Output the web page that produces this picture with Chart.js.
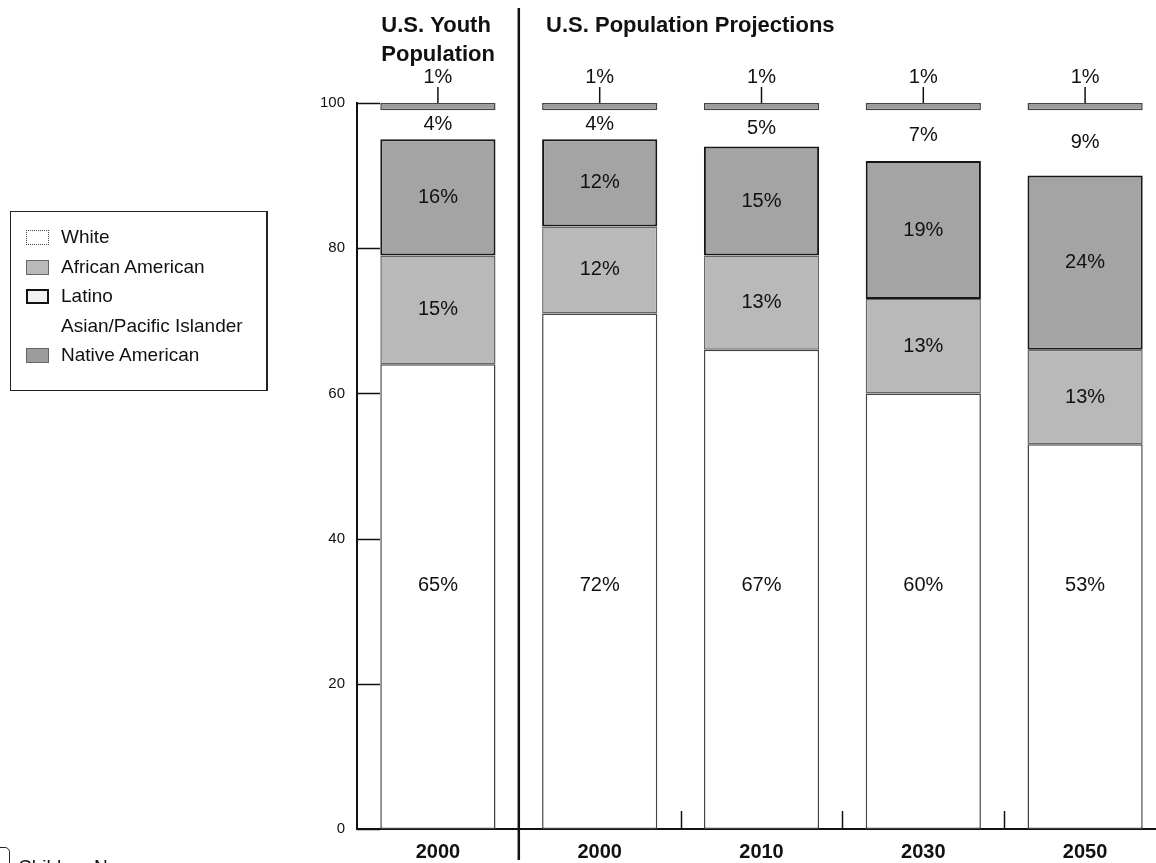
<!DOCTYPE html>
<html>
<head>
<meta charset="utf-8">
<script src="https://cdn.jsdelivr.net/npm/chart.js@4.4.1/dist/chart.umd.min.js"></script>
<style>
body{margin:0;width:1156px;height:863px;overflow:hidden;background:#fff;font-family:"Liberation Sans",Arial,sans-serif;position:relative;}
#wrap{position:absolute;left:0;top:0;width:1172px;height:863px;}
#legend{position:absolute;left:10px;top:211px;width:255px;height:178px;border:1.5px solid #222;border-right-width:2px;}
.row{position:absolute;left:0;height:30px;font-size:19px;color:#111;}
.sw{position:absolute;left:15px;top:6px;width:23px;height:15px;box-sizing:border-box;}
.lbl{position:absolute;left:50px;top:2px;white-space:nowrap;}
#logo{position:absolute;left:-6px;top:847px;width:14px;height:30px;border:1.5px solid #222;border-radius:0 5px 0 0;}
#credit{position:absolute;left:18px;top:856px;font-size:19px;color:#111;}
</style>
</head>
<body>
<div id="wrap"><canvas id="GraphStat" width="1172" height="863"></canvas></div>
<div id="legend"></div>
<div id="logo"></div>
<div id="credit">Children Now</div>
<script>
var years = ['2000', '2000', '2010', '2030', '2050'];
var groups = ['White', 'African American', 'Latino', 'Asian/Pacific Islander', 'Native American'];
// segment heights as drawn (each bar adds to 100)
var white = [64, 71, 66, 60, 53];
var africanAmerican = [15, 12, 13, 13, 13];
var latino = [16, 12, 15, 19, 24];
var asian = [4, 4, 5, 7, 9];
var nativeAmerican = [1, 1, 1, 1, 1];
// printed white shares (rounded differently in the source)
var whiteLabels = ['65%', '72%', '67%', '60%', '53%'];
var yTicks = [0, 20, 40, 60, 80, 100];

var fills = ['#ffffff', '#b9b9b9', '#a4a4a4', 'rgba(0,0,0,0)', '#9c9c9c'];
var edges = ['#444444', '#666666', '#161616', 'rgba(0,0,0,0)', '#444444'];
var edgeW = [1.5, 1.5, 2, 0, 1.5];

var legendBox = document.getElementById('legend');
var swatch = [
    'background:#fff;border:1.5px dotted #444;',
    'background:#b9b9b9;border:1.5px solid #666;',
    'background:#f1f1f1;border:2px solid #111;',
    '',
    'background:#9c9c9c;border:1.5px solid #666;'
];
groups.forEach(function(g, i){
    var row = document.createElement('div');
    row.className = 'row';
    row.style.top = (12 + i * 29.5) + 'px';
    row.innerHTML = (swatch[i] ? '<div class="sw" style="' + swatch[i] + '"></div>' : '') + '<div class="lbl">' + g + '</div>';
    legendBox.appendChild(row);
});

var FONT = '"Liberation Sans", Arial, sans-serif';

var extras = {
    id: 'extras',
    afterDraw: function(chart){
        var ctx = chart.ctx;
        var area = chart.chartArea;
        var ys = chart.scales.y;
        var bars = chart.getDatasetMeta(0).data;
        ctx.save();
        ctx.strokeStyle = '#111';

        // inward tick marks on y
        ctx.lineWidth = 1.5;
        yTicks.forEach(function(v){
            var py = Math.round(ys.getPixelForValue(v)) + 0.5;
            ctx.beginPath();
            ctx.moveTo(area.left, py);
            ctx.lineTo(area.left + 23, py);
            ctx.stroke();
        });

        // divider between youth and projections
        var divX = (bars[0].x + bars[1].x) / 2;
        ctx.lineWidth = 2.5;
        ctx.beginPath();
        ctx.moveTo(divX, 8);
        ctx.lineTo(divX, 860);
        ctx.stroke();

        // little ticks on baseline
        ctx.lineWidth = 1.5;
        for(var i = 1; i < bars.length - 1; i++){
            var bx = Math.round((bars[i].x + bars[i + 1].x) / 2) + 0.5;
            ctx.beginPath();
            ctx.moveTo(bx, area.bottom - 18);
            ctx.lineTo(bx, area.bottom);
            ctx.stroke();
        }

        // headers
        ctx.fillStyle = '#111';
        ctx.font = 'bold 22px ' + FONT;
        ctx.textAlign = 'left';
        ctx.textBaseline = 'alphabetic';
        ctx.fillText('U.S. Youth', bars[0].x - bars[0].width / 2 + 1, 32);
        ctx.fillText('Population', bars[0].x - bars[0].width / 2 + 1, 61);
        ctx.fillText('U.S. Population Projections', bars[1].x - bars[1].width / 2 + 4, 32);

        // percent labels
        ctx.font = '20px ' + FONT;
        ctx.textAlign = 'center';
        ctx.textBaseline = 'middle';
        var series = chart.data.datasets;
        for(var d = 0; d < series.length; d++){
            var meta = chart.getDatasetMeta(d);
            meta.data.forEach(function(el, k){
                var txt = d == 0 ? whiteLabels[k] : series[d].data[k] + '%';
                if(d == 0){
                    ctx.fillText(txt, el.x, ys.getPixelForValue(33.5));
                }else if(d == 4){
                    ctx.beginPath();
                    ctx.moveTo(el.x, el.y - 16);
                    ctx.lineTo(el.x, el.y);
                    ctx.lineWidth = 1.5;
                    ctx.stroke();
                    ctx.fillText(txt, el.x, el.y - 26);
                }else{
                    ctx.fillText(txt, el.x, (el.y + el.base) / 2);
                }
            });
        }
        ctx.restore();
    }
};

var values = [white, africanAmerican, latino, asian, nativeAmerican];
var sets = [];
for(var s = 0; s < groups.length; s++){
    sets.push({
        label: groups[s],
        data: values[s],
        backgroundColor: fills[s],
        borderColor: edges[s],
        borderWidth: edgeW[s],
        borderSkipped: false,
        barPercentage: 0.712,
        categoryPercentage: 1
    });
}

var stat = document.getElementById('GraphStat');
var StatChart = new Chart(stat, {
    type: 'bar',
    data: {
        labels: years,
        datasets: sets
    },
    options: {
        responsive: false,
        animation: false,
        layout: {padding: {top: 103, right: 6, left: 0, bottom: 0}},
        plugins: {legend: {display: false}, tooltip: {enabled: false}},
        scales: {
            x: {
                stacked: true,
                grid: {display: false},
                border: {display: true, color: '#111', width: 2},
                ticks: {color: '#111', padding: 3, font: {family: FONT, size: 20, weight: 'bold'}},
                afterFit: function(sc){ sc.height = 34; }
            },
            y: {
                stacked: true,
                min: 0,
                max: 100,
                afterBuildTicks: function(sc){ sc.ticks = yTicks.map(function(v){ return {value: v}; }); },
                grid: {display: false, drawTicks: false},
                border: {display: true, color: '#111', width: 2},
                ticks: {color: '#111', padding: 12, font: {family: FONT, size: 15}},
                afterFit: function(sc){ sc.width = 357; }
            }
        }
    },
    plugins: [extras]
});
</script>
</body>
</html>
